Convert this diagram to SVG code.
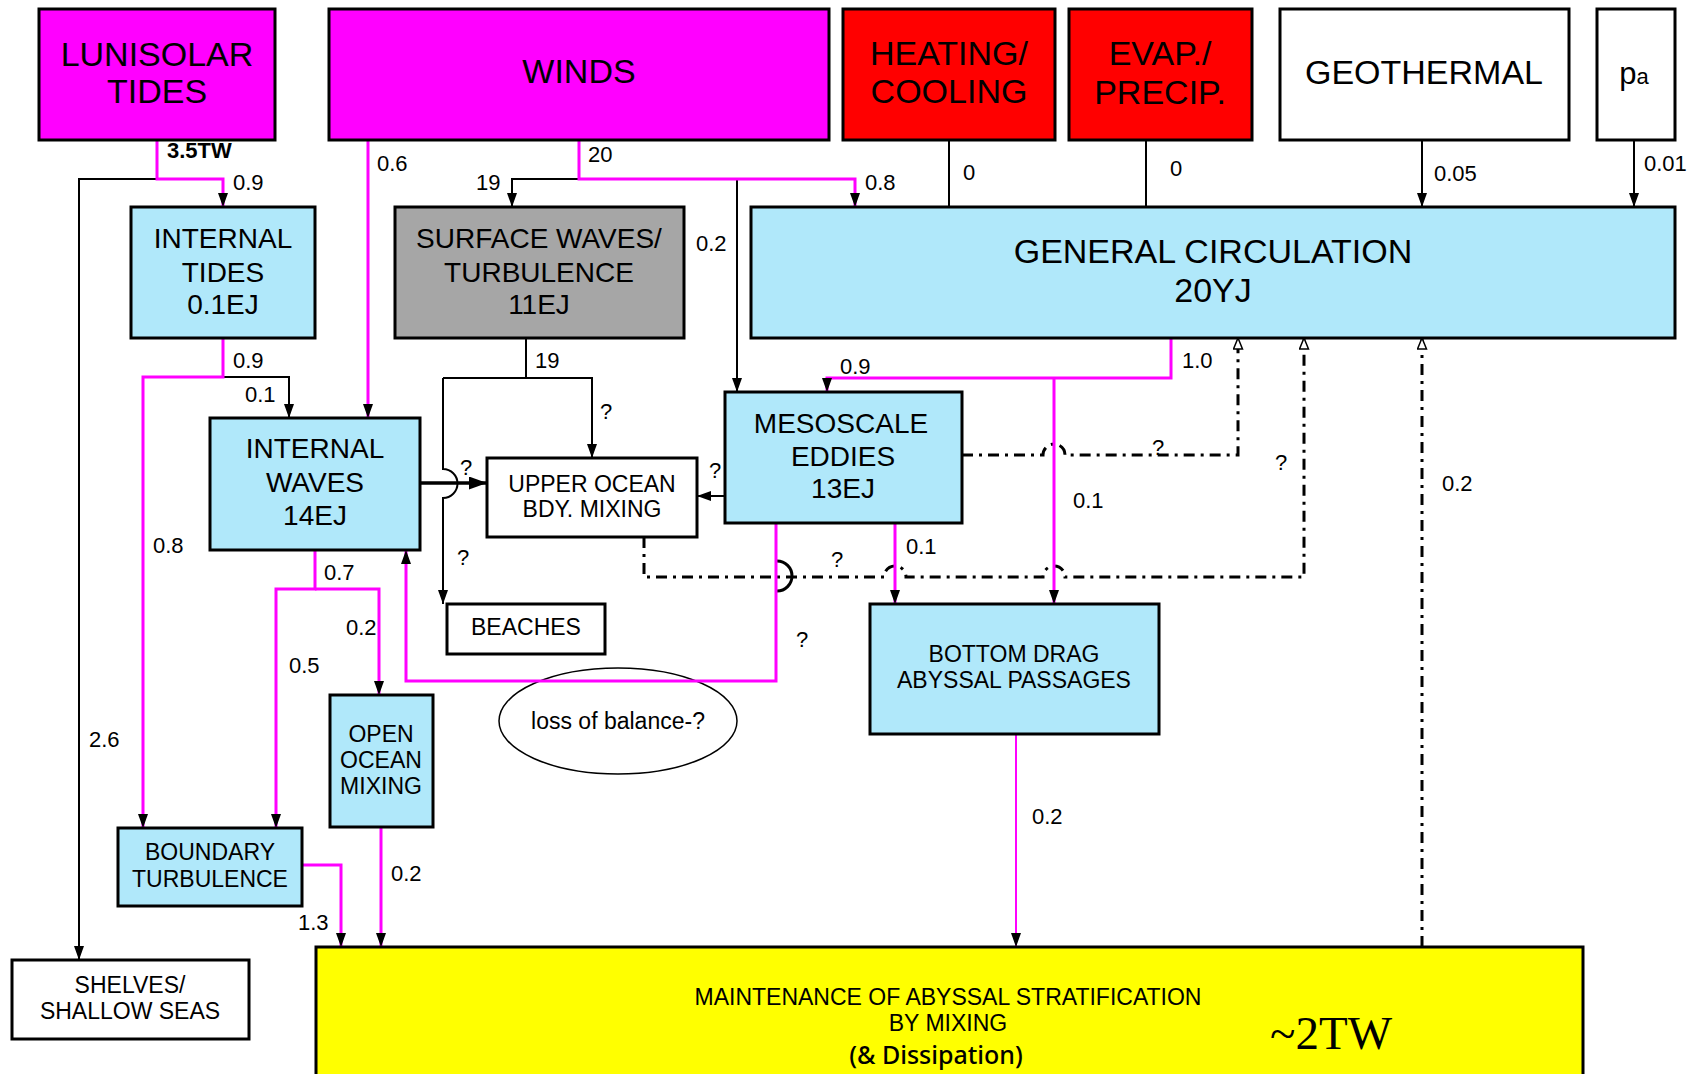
<svg xmlns="http://www.w3.org/2000/svg" width="1699" height="1074" viewBox="0 0 1699 1074">
<style>
.box{stroke:#000;stroke-width:3}
.mag{fill:#ff00ff}
.red{fill:#ff0000}
.blue{fill:#b0e8fa}
.wht{fill:#ffffff}
.m{fill:none;stroke:#ff00ff;stroke-width:3}
.b{fill:none;stroke:#000;stroke-width:2}
.dd{fill:none;stroke:#000;stroke-width:3;stroke-dasharray:11 6 3 6}
text{font-family:"Liberation Sans",Arial,Helvetica,sans-serif;fill:#000}
.t34{font-size:34px;text-anchor:middle}
.t28{font-size:28px;text-anchor:middle}
.t23{font-size:23px;text-anchor:middle}
.lbl{font-size:22px}
</style>
<defs>
<marker id="ah" markerWidth="14" markerHeight="10" refX="14" refY="5" orient="auto" markerUnits="userSpaceOnUse"><path d="M0,0L14,5L0,10z" fill="#000"/></marker>
<marker id="ab" markerWidth="18" markerHeight="13" refX="18" refY="6.5" orient="auto" markerUnits="userSpaceOnUse"><path d="M0,0L18,6.5L0,13z" fill="#000"/></marker>
<marker id="ao" markerWidth="13" markerHeight="11" refX="12" refY="5.5" orient="auto" markerUnits="userSpaceOnUse"><path d="M1,1L12,5.5L1,10z" fill="#fff" stroke="#000" stroke-width="1.5"/></marker>
</defs>
<rect width="1699" height="1074" fill="#fff"/>

<g id="loss-of-balance"><ellipse cx="618" cy="721" rx="119" ry="53" fill="none" stroke="#000" stroke-width="1.5"/><text class="t23" x="618" y="729">loss of balance-?</text></g>

<g id="connectors">
<path class="b" d="M157,179H79V960" marker-end="url(#ah)"/>
<path class="m" d="M157,140V179H223V207" marker-end="url(#ah)"/>
<path class="m" d="M368,140V418" marker-end="url(#ah)"/>
<path class="b" d="M579,179H512V207" marker-end="url(#ah)"/>
<path class="b" d="M737,179V392" marker-end="url(#ah)"/>
<path class="m" d="M579,140V179H855V207" marker-end="url(#ah)"/>
<path class="b" d="M949,140V207"/>
<path class="b" d="M1146,140V207"/>
<path class="b" d="M1422,140V207" marker-end="url(#ah)"/>
<path class="b" d="M1634,140V207" marker-end="url(#ah)"/>
<path class="b" d="M223,377H289V418" marker-end="url(#ah)"/>
<path class="m" d="M223,338V377H143V828" marker-end="url(#ah)"/>
<path class="b" d="M526,338V378"/>
<path class="b" d="M443,378H592V458" marker-end="url(#ah)"/>
<path class="b" d="M443,378V469A14.5,14.5 0 0 1 443,498V604" marker-end="url(#ah)"/>
<path fill="none" stroke="#000" stroke-width="3.5" d="M420,483H487" marker-end="url(#ab)"/>
<path class="b" d="M725,496H697" marker-end="url(#ah)"/>
<path class="dd" d="M962,455H1043A11,11 0 0 1 1065,455H1238V338" marker-end="url(#ao)"/>
<path class="dd" d="M644,537V577H884A11,11 0 0 1 906,577H1043A11,11 0 0 1 1065,577H1304V338" marker-end="url(#ao)"/>
<path class="dd" d="M1422,947V338" marker-end="url(#ao)"/>
<path fill="none" stroke="#000" stroke-width="3" d="M777,561A15,15 0 0 1 777,591"/>
<path class="m" d="M1171,338V378H827V392" marker-end="url(#ah)"/>
<path class="m" d="M1054,378V604" marker-end="url(#ah)"/>
<path class="m" d="M776,523V681H406V550" marker-end="url(#ah)"/>
<path class="m" d="M895,523V604" marker-end="url(#ah)"/>
<path class="m" d="M315,550V589H276V828" marker-end="url(#ah)"/>
<path class="m" d="M315,589H379V695" marker-end="url(#ah)"/>
<path class="m" d="M302,865H341V947" marker-end="url(#ah)"/>
<path class="m" d="M381,827V947" marker-end="url(#ah)"/>
<path fill="none" stroke="#ff00ff" stroke-width="2" d="M1016,734V947" marker-end="url(#ah)"/>
</g>

<g id="labels">
<text class="lbl" x="167" y="158" font-weight="bold">3.5TW</text>
<text class="lbl" x="233" y="190">0.9</text>
<text class="lbl" x="377" y="171">0.6</text>
<text class="lbl" x="588" y="162">20</text>
<text class="lbl" x="476" y="190">19</text>
<text class="lbl" x="696" y="251">0.2</text>
<text class="lbl" x="865" y="190">0.8</text>
<text class="lbl" x="963" y="180">0</text>
<text class="lbl" x="1170" y="176">0</text>
<text class="lbl" x="1434" y="181">0.05</text>
<text class="lbl" x="1644" y="171">0.01</text>
<text class="lbl" x="233" y="368">0.9</text>
<text class="lbl" x="245" y="402">0.1</text>
<text class="lbl" x="535" y="368">19</text>
<text class="lbl" x="600" y="419">?</text>
<text class="lbl" x="460" y="475">?</text>
<text class="lbl" x="709" y="478">?</text>
<text class="lbl" x="153" y="553">0.8</text>
<text class="lbl" x="457" y="565">?</text>
<text class="lbl" x="324" y="580">0.7</text>
<text class="lbl" x="831" y="567">?</text>
<text class="lbl" x="346" y="635">0.2</text>
<text class="lbl" x="289" y="673">0.5</text>
<text class="lbl" x="796" y="647">?</text>
<text class="lbl" x="840" y="374">0.9</text>
<text class="lbl" x="1182" y="368">1.0</text>
<text class="lbl" x="1152" y="455">?</text>
<text class="lbl" x="1275" y="470">?</text>
<text class="lbl" x="1073" y="508">0.1</text>
<text class="lbl" x="1442" y="491">0.2</text>
<text class="lbl" x="906" y="554">0.1</text>
<text class="lbl" x="89" y="747">2.6</text>
<text class="lbl" x="298" y="930">1.3</text>
<text class="lbl" x="391" y="881">0.2</text>
<text class="lbl" x="1032" y="824">0.2</text>
</g>

<g id="lunisolar"><rect class="box mag" x="39" y="9" width="236" height="131"/><text class="t34" x="157" y="66">LUNISOLAR</text><text class="t34" x="157" y="103">TIDES</text></g>
<g id="winds"><rect class="box mag" x="329" y="9" width="500" height="131"/><text class="t34" x="579" y="83">WINDS</text></g>
<g id="heating"><rect class="box red" x="843" y="9" width="212" height="131"/><text class="t34" x="949" y="65">HEATING/</text><text class="t34" x="949" y="103">COOLING</text></g>
<g id="evap"><rect class="box red" x="1069" y="9" width="183" height="131"/><text class="t34" x="1160" y="65">EVAP./</text><text class="t34" x="1160" y="104">PRECIP.</text></g>
<g id="geothermal"><rect class="box wht" x="1280" y="9" width="289" height="131"/><text class="t34" x="1424" y="84">GEOTHERMAL</text></g>
<g id="pa"><rect class="box wht" x="1597" y="9" width="78" height="131"/><text x="1634" y="84" style="font-size:31px;text-anchor:middle">p<tspan style="font-size:22px">a</tspan></text></g>
<g id="general-circulation"><rect class="box blue" x="751" y="207" width="924" height="131"/><text class="t34" x="1213" y="263">GENERAL CIRCULATION</text><text class="t34" x="1213" y="302">20YJ</text></g>
<g id="internal-tides"><rect class="box blue" x="131" y="207" width="184" height="131"/><text class="t28" x="223" y="248">INTERNAL</text><text class="t28" x="223" y="282">TIDES</text><text class="t28" x="223" y="314">0.1EJ</text></g>
<g id="surface-waves"><rect class="box" fill="#a6a6a6" x="395" y="207" width="289" height="131"/><text class="t28" x="539" y="248">SURFACE WAVES/</text><text class="t28" x="539" y="282">TURBULENCE</text><text class="t28" x="539" y="314">11EJ</text></g>
<g id="internal-waves"><rect class="box blue" x="210" y="418" width="210" height="132"/><text class="t28" x="315" y="458">INTERNAL</text><text class="t28" x="315" y="492">WAVES</text><text class="t28" x="315" y="525">14EJ</text></g>
<g id="upper-ocean"><rect class="box wht" x="487" y="458" width="210" height="79"/><text class="t23" x="592" y="492">UPPER OCEAN</text><text class="t23" x="592" y="517">BDY. MIXING</text></g>
<g id="mesoscale"><rect class="box blue" x="725" y="392" width="237" height="131"/><text class="t28" x="841" y="433">MESOSCALE</text><text class="t28" x="843" y="466">EDDIES</text><text class="t28" x="843" y="498">13EJ</text></g>
<g id="beaches"><rect class="box wht" x="447" y="604" width="158" height="50"/><text class="t23" x="526" y="635">BEACHES</text></g>
<g id="bottom-drag"><rect class="box blue" x="870" y="604" width="289" height="130"/><text class="t23" x="1014" y="662">BOTTOM DRAG</text><text class="t23" x="1014" y="688">ABYSSAL PASSAGES</text></g>
<g id="open-ocean"><rect class="box blue" x="330" y="695" width="103" height="132"/><text class="t23" x="381" y="742">OPEN</text><text class="t23" x="381" y="768">OCEAN</text><text class="t23" x="381" y="794">MIXING</text></g>
<g id="boundary-turbulence"><rect class="box blue" x="118" y="828" width="184" height="78"/><text class="t23" x="210" y="860">BOUNDARY</text><text class="t23" x="210" y="887">TURBULENCE</text></g>
<g id="shelves"><rect class="box wht" x="12" y="960" width="237" height="79"/><text class="t23" x="130" y="993">SHELVES/</text><text class="t23" x="130" y="1019">SHALLOW SEAS</text></g>
<g id="maintenance"><rect class="box" fill="#ffff00" x="316" y="947" width="1267" height="140"/><text class="t23" x="948" y="1005">MAINTENANCE OF ABYSSAL STRATIFICATION</text><text class="t23" x="948" y="1031">BY MIXING</text><text x="936" y="1064" style="font-family:'Noto Sans','Open Sans',sans-serif;font-size:25px;font-weight:500;text-anchor:middle">(&amp; Dissipation)</text><text x="1270" y="1049" style="font-family:'Liberation Serif','Times New Roman',serif;font-size:47px">~2TW</text></g>
</svg>
